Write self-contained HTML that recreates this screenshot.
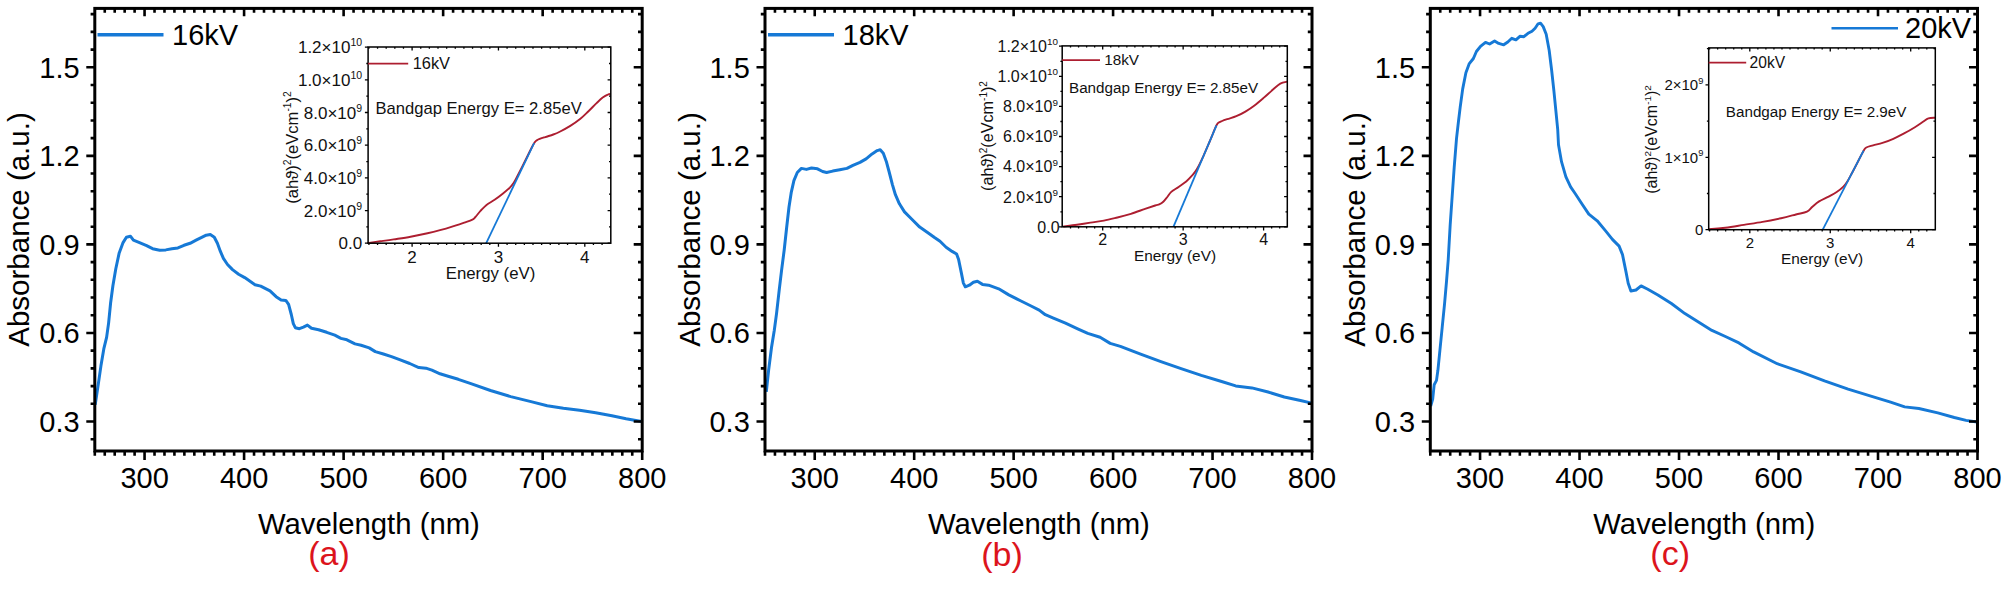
<!DOCTYPE html>
<html><head><meta charset="utf-8"><title>Absorbance spectra</title>
<style>html,body{margin:0;padding:0;background:#fff}svg{display:block}</style></head>
<body>
<svg width="2008" height="593" viewBox="0 0 2008 593">
<rect width="2008" height="593" fill="#fff"/>
<g font-family='"Liberation Sans", Arial, sans-serif' font-size="29" fill="#000">
<path d="M95.2,404.8 L98.0,386.1 L100.9,366.1 L103.8,348.9 L106.6,337.4 L108.6,323.1 L110.6,303.0 L112.9,285.8 L115.8,268.7 L119.2,252.9 L122.9,242.9 L126.4,237.2 L130.4,236.2 L133.4,240.2 L139.5,242.7 L146.6,245.7 L152.6,248.7 L159.7,250.3 L165.8,249.9 L171.9,248.7 L177.9,247.9 L184.0,245.3 L190.1,243.3 L196.1,240.2 L202.2,237.2 L206.2,235.2 L210.3,234.6 L214.3,237.2 L217.4,243.3 L220.4,251.4 L223.4,258.4 L227.5,264.5 L232.5,269.6 L238.6,274.2 L244.7,277.6 L255.0,284.7 L260.7,286.1 L270.0,290.9 L276.1,296.7 L281.1,300.0 L285.8,300.4 L288.6,304.4 L291.3,314.5 L293.3,323.6 L295.3,327.7 L299.4,328.7 L303.4,327.1 L307.4,325.1 L311.5,328.3 L318.6,329.7 L326.7,332.3 L334.8,335.2 L340.9,338.4 L346.9,339.8 L355.0,343.9 L361.1,345.3 L369.2,347.9 L375.3,351.6 L383.4,354.0 L391.5,356.6 L399.6,359.7 L409.7,363.5 L418.8,367.6 L425.9,368.2 L431.9,370.2 L440.0,373.8 L448.1,376.3 L458.3,379.3 L470.2,383.4 L490.5,390.5 L510.7,396.6 L531.0,401.6 L547.2,405.7 L563.4,408.3 L579.6,410.3 L595.7,412.8 L611.9,415.8 L626.1,418.8 L641.5,421.5" fill="none" stroke="#1679d6" stroke-width="3.0" stroke-linejoin="round" stroke-linecap="butt" />
<rect x="94.8" y="8.4" width="547.4" height="442.6" fill="none" stroke="#000" stroke-width="3.0"/>
<path d="M94.80,451.0v4.8M104.75,451.0v4.8M104.75,8.4v4.3M114.71,451.0v4.8M114.71,8.4v4.3M124.66,451.0v4.8M124.66,8.4v4.3M134.61,451.0v4.8M134.61,8.4v4.3M144.56,451.0v9.0M144.56,8.4v7.8M154.52,451.0v4.8M154.52,8.4v4.3M164.47,451.0v4.8M164.47,8.4v4.3M174.42,451.0v4.8M174.42,8.4v4.3M184.37,451.0v4.8M184.37,8.4v4.3M194.33,451.0v4.8M194.33,8.4v4.3M204.28,451.0v4.8M204.28,8.4v4.3M214.23,451.0v4.8M214.23,8.4v4.3M224.19,451.0v4.8M224.19,8.4v4.3M234.14,451.0v4.8M234.14,8.4v4.3M244.09,451.0v9.0M244.09,8.4v7.8M254.04,451.0v4.8M254.04,8.4v4.3M264.00,451.0v4.8M264.00,8.4v4.3M273.95,451.0v4.8M273.95,8.4v4.3M283.90,451.0v4.8M283.90,8.4v4.3M293.85,451.0v4.8M293.85,8.4v4.3M303.81,451.0v4.8M303.81,8.4v4.3M313.76,451.0v4.8M313.76,8.4v4.3M323.71,451.0v4.8M323.71,8.4v4.3M333.67,451.0v4.8M333.67,8.4v4.3M343.62,451.0v9.0M343.62,8.4v7.8M353.57,451.0v4.8M353.57,8.4v4.3M363.52,451.0v4.8M363.52,8.4v4.3M373.48,451.0v4.8M373.48,8.4v4.3M383.43,451.0v4.8M383.43,8.4v4.3M393.38,451.0v4.8M393.38,8.4v4.3M403.33,451.0v4.8M403.33,8.4v4.3M413.29,451.0v4.8M413.29,8.4v4.3M423.24,451.0v4.8M423.24,8.4v4.3M433.19,451.0v4.8M433.19,8.4v4.3M443.15,451.0v9.0M443.15,8.4v7.8M453.10,451.0v4.8M453.10,8.4v4.3M463.05,451.0v4.8M463.05,8.4v4.3M473.00,451.0v4.8M473.00,8.4v4.3M482.96,451.0v4.8M482.96,8.4v4.3M492.91,451.0v4.8M492.91,8.4v4.3M502.86,451.0v4.8M502.86,8.4v4.3M512.81,451.0v4.8M512.81,8.4v4.3M522.77,451.0v4.8M522.77,8.4v4.3M532.72,451.0v4.8M532.72,8.4v4.3M542.67,451.0v9.0M542.67,8.4v7.8M552.63,451.0v4.8M552.63,8.4v4.3M562.58,451.0v4.8M562.58,8.4v4.3M572.53,451.0v4.8M572.53,8.4v4.3M582.48,451.0v4.8M582.48,8.4v4.3M592.44,451.0v4.8M592.44,8.4v4.3M602.39,451.0v4.8M602.39,8.4v4.3M612.34,451.0v4.8M612.34,8.4v4.3M622.29,451.0v4.8M622.29,8.4v4.3M632.25,451.0v4.8M632.25,8.4v4.3M642.20,451.0v9.0M94.8,439.21h-4.2M642.2,439.21h-4.2M94.8,421.50h-8.5M642.2,421.50h-8.5M94.8,403.79h-4.2M642.2,403.79h-4.2M94.8,386.08h-4.2M642.2,386.08h-4.2M94.8,368.37h-4.2M642.2,368.37h-4.2M94.8,350.66h-4.2M642.2,350.66h-4.2M94.8,332.95h-8.5M642.2,332.95h-8.5M94.8,315.24h-4.2M642.2,315.24h-4.2M94.8,297.53h-4.2M642.2,297.53h-4.2M94.8,279.82h-4.2M642.2,279.82h-4.2M94.8,262.11h-4.2M642.2,262.11h-4.2M94.8,244.40h-8.5M642.2,244.40h-8.5M94.8,226.69h-4.2M642.2,226.69h-4.2M94.8,208.98h-4.2M642.2,208.98h-4.2M94.8,191.27h-4.2M642.2,191.27h-4.2M94.8,173.56h-4.2M642.2,173.56h-4.2M94.8,155.85h-8.5M642.2,155.85h-8.5M94.8,138.14h-4.2M642.2,138.14h-4.2M94.8,120.43h-4.2M642.2,120.43h-4.2M94.8,102.72h-4.2M642.2,102.72h-4.2M94.8,85.01h-4.2M642.2,85.01h-4.2M94.8,67.30h-8.5M642.2,67.30h-8.5M94.8,49.59h-4.2M642.2,49.59h-4.2M94.8,31.88h-4.2M642.2,31.88h-4.2M94.8,14.17h-4.2M642.2,14.17h-4.2" stroke="#000" stroke-width="2.6" fill="none"/>
<text x="144.6" y="488.4" text-anchor="middle">300</text>
<text x="244.1" y="488.4" text-anchor="middle">400</text>
<text x="343.6" y="488.4" text-anchor="middle">500</text>
<text x="443.1" y="488.4" text-anchor="middle">600</text>
<text x="542.7" y="488.4" text-anchor="middle">700</text>
<text x="642.2" y="488.4" text-anchor="middle">800</text>
<text x="79.6" y="431.9" text-anchor="end">0.3</text>
<text x="79.6" y="343.3" text-anchor="end">0.6</text>
<text x="79.6" y="254.8" text-anchor="end">0.9</text>
<text x="79.6" y="166.3" text-anchor="end">1.2</text>
<text x="79.6" y="77.7" text-anchor="end">1.5</text>
<text x="368.9" y="534.4" text-anchor="middle" font-size="29.3">Wavelength (nm)</text>
<text transform="translate(29.3,229.5) rotate(-90)" text-anchor="middle" font-size="29.5">Absorbance (a.u.)</text>
<text x="329" y="564.6" text-anchor="middle" font-size="34" fill="#dc141c">(a)</text>
<path d="M766.3,391.9 L768.6,370.4 L771.5,347.5 L774.3,330.3 L776.6,313.1 L779.2,290.2 L781.6,270.1 L784.2,250.0 L786.6,228.0 L789.0,207.0 L791.2,192.7 L793.9,180.6 L797.3,172.5 L801.4,168.4 L806.4,169.4 L811.5,168.0 L817.5,168.8 L822.6,171.5 L826.6,172.5 L832.7,171.1 L839.8,169.8 L846.9,168.4 L852.9,165.4 L860.0,162.4 L866.1,158.9 L872.1,153.9 L877.2,150.6 L880.2,149.8 L883.3,153.3 L886.3,161.4 L889.3,172.5 L892.4,184.6 L895.4,194.7 L899.4,203.8 L904.5,211.9 L911.6,219.0 L919.7,227.1 L930.0,234.2 L934.5,237.5 L940.0,241.3 L946.1,247.3 L952.1,251.4 L956.6,254.0 L958.6,259.5 L961.3,272.6 L963.3,282.8 L965.3,286.8 L969.4,285.2 L973.4,282.3 L977.4,281.3 L982.5,284.4 L988.6,285.2 L998.7,288.8 L1008.8,294.9 L1021.0,301.0 L1031.1,306.0 L1039.2,310.1 L1045.3,314.7 L1053.4,318.2 L1065.5,323.2 L1077.7,328.9 L1087.8,333.4 L1100.1,337.3 L1110.2,343.4 L1120.4,346.4 L1140.6,354.1 L1160.9,361.6 L1181.1,368.7 L1201.3,375.4 L1221.6,381.5 L1235.7,385.9 L1251.9,387.9 L1268.1,392.0 L1284.3,397.0 L1300.5,400.5 L1311.7,403.1" fill="none" stroke="#1679d6" stroke-width="3.0" stroke-linejoin="round" stroke-linecap="butt" />
<rect x="765.0" y="8.4" width="547.0" height="442.6" fill="none" stroke="#000" stroke-width="3.0"/>
<path d="M765.00,451.0v4.8M774.95,451.0v4.8M774.95,8.4v4.3M784.89,451.0v4.8M784.89,8.4v4.3M794.84,451.0v4.8M794.84,8.4v4.3M804.78,451.0v4.8M804.78,8.4v4.3M814.73,451.0v9.0M814.73,8.4v7.8M824.67,451.0v4.8M824.67,8.4v4.3M834.62,451.0v4.8M834.62,8.4v4.3M844.56,451.0v4.8M844.56,8.4v4.3M854.51,451.0v4.8M854.51,8.4v4.3M864.45,451.0v4.8M864.45,8.4v4.3M874.40,451.0v4.8M874.40,8.4v4.3M884.35,451.0v4.8M884.35,8.4v4.3M894.29,451.0v4.8M894.29,8.4v4.3M904.24,451.0v4.8M904.24,8.4v4.3M914.18,451.0v9.0M914.18,8.4v7.8M924.13,451.0v4.8M924.13,8.4v4.3M934.07,451.0v4.8M934.07,8.4v4.3M944.02,451.0v4.8M944.02,8.4v4.3M953.96,451.0v4.8M953.96,8.4v4.3M963.91,451.0v4.8M963.91,8.4v4.3M973.85,451.0v4.8M973.85,8.4v4.3M983.80,451.0v4.8M983.80,8.4v4.3M993.75,451.0v4.8M993.75,8.4v4.3M1003.69,451.0v4.8M1003.69,8.4v4.3M1013.64,451.0v9.0M1013.64,8.4v7.8M1023.58,451.0v4.8M1023.58,8.4v4.3M1033.53,451.0v4.8M1033.53,8.4v4.3M1043.47,451.0v4.8M1043.47,8.4v4.3M1053.42,451.0v4.8M1053.42,8.4v4.3M1063.36,451.0v4.8M1063.36,8.4v4.3M1073.31,451.0v4.8M1073.31,8.4v4.3M1083.25,451.0v4.8M1083.25,8.4v4.3M1093.20,451.0v4.8M1093.20,8.4v4.3M1103.15,451.0v4.8M1103.15,8.4v4.3M1113.09,451.0v9.0M1113.09,8.4v7.8M1123.04,451.0v4.8M1123.04,8.4v4.3M1132.98,451.0v4.8M1132.98,8.4v4.3M1142.93,451.0v4.8M1142.93,8.4v4.3M1152.87,451.0v4.8M1152.87,8.4v4.3M1162.82,451.0v4.8M1162.82,8.4v4.3M1172.76,451.0v4.8M1172.76,8.4v4.3M1182.71,451.0v4.8M1182.71,8.4v4.3M1192.65,451.0v4.8M1192.65,8.4v4.3M1202.60,451.0v4.8M1202.60,8.4v4.3M1212.55,451.0v9.0M1212.55,8.4v7.8M1222.49,451.0v4.8M1222.49,8.4v4.3M1232.44,451.0v4.8M1232.44,8.4v4.3M1242.38,451.0v4.8M1242.38,8.4v4.3M1252.33,451.0v4.8M1252.33,8.4v4.3M1262.27,451.0v4.8M1262.27,8.4v4.3M1272.22,451.0v4.8M1272.22,8.4v4.3M1282.16,451.0v4.8M1282.16,8.4v4.3M1292.11,451.0v4.8M1292.11,8.4v4.3M1302.05,451.0v4.8M1302.05,8.4v4.3M1312.00,451.0v9.0M765.0,439.21h-4.2M1312.0,439.21h-4.2M765.0,421.50h-8.5M1312.0,421.50h-8.5M765.0,403.79h-4.2M1312.0,403.79h-4.2M765.0,386.08h-4.2M1312.0,386.08h-4.2M765.0,368.37h-4.2M1312.0,368.37h-4.2M765.0,350.66h-4.2M1312.0,350.66h-4.2M765.0,332.95h-8.5M1312.0,332.95h-8.5M765.0,315.24h-4.2M1312.0,315.24h-4.2M765.0,297.53h-4.2M1312.0,297.53h-4.2M765.0,279.82h-4.2M1312.0,279.82h-4.2M765.0,262.11h-4.2M1312.0,262.11h-4.2M765.0,244.40h-8.5M1312.0,244.40h-8.5M765.0,226.69h-4.2M1312.0,226.69h-4.2M765.0,208.98h-4.2M1312.0,208.98h-4.2M765.0,191.27h-4.2M1312.0,191.27h-4.2M765.0,173.56h-4.2M1312.0,173.56h-4.2M765.0,155.85h-8.5M1312.0,155.85h-8.5M765.0,138.14h-4.2M1312.0,138.14h-4.2M765.0,120.43h-4.2M1312.0,120.43h-4.2M765.0,102.72h-4.2M1312.0,102.72h-4.2M765.0,85.01h-4.2M1312.0,85.01h-4.2M765.0,67.30h-8.5M1312.0,67.30h-8.5M765.0,49.59h-4.2M1312.0,49.59h-4.2M765.0,31.88h-4.2M1312.0,31.88h-4.2M765.0,14.17h-4.2M1312.0,14.17h-4.2" stroke="#000" stroke-width="2.6" fill="none"/>
<text x="814.7" y="488.4" text-anchor="middle">300</text>
<text x="914.2" y="488.4" text-anchor="middle">400</text>
<text x="1013.6" y="488.4" text-anchor="middle">500</text>
<text x="1113.1" y="488.4" text-anchor="middle">600</text>
<text x="1212.5" y="488.4" text-anchor="middle">700</text>
<text x="1312.0" y="488.4" text-anchor="middle">800</text>
<text x="749.8" y="431.9" text-anchor="end">0.3</text>
<text x="749.8" y="343.3" text-anchor="end">0.6</text>
<text x="749.8" y="254.8" text-anchor="end">0.9</text>
<text x="749.8" y="166.3" text-anchor="end">1.2</text>
<text x="749.8" y="77.7" text-anchor="end">1.5</text>
<text x="1038.9" y="534.4" text-anchor="middle" font-size="29.3">Wavelength (nm)</text>
<text transform="translate(699.5,229.5) rotate(-90)" text-anchor="middle" font-size="29.5">Absorbance (a.u.)</text>
<text x="1002" y="566.3" text-anchor="middle" font-size="34" fill="#dc141c">(b)</text>
<path d="M1430.7,406.2 L1432.7,399.0 L1434.2,384.7 L1436.5,380.4 L1437.9,370.3 L1439.9,350.3 L1442.2,327.4 L1444.5,304.4 L1446.5,281.5 L1448.2,260.0 L1450.2,224.7 L1452.2,196.0 L1454.2,167.4 L1456.5,138.7 L1458.4,122.0 L1460.2,107.1 L1462.7,88.9 L1465.9,72.7 L1469.3,63.6 L1473.4,58.5 L1476.4,51.5 L1480.5,46.4 L1485.5,42.4 L1489.6,44.0 L1494.6,40.9 L1498.7,43.4 L1503.7,44.8 L1507.8,42.0 L1511.8,38.3 L1515.9,39.9 L1519.9,36.3 L1523.9,36.7 L1528.0,33.3 L1532.0,31.2 L1535.1,28.2 L1538.1,23.8 L1540.5,23.1 L1543.2,26.6 L1546.2,34.3 L1549.2,50.5 L1551.7,70.7 L1553.9,90.9 L1555.9,111.1 L1557.7,129.3 L1558.5,144.8 L1561.5,161.7 L1565.9,176.8 L1570.6,186.9 L1575.3,193.8 L1582.0,204.0 L1588.8,214.1 L1597.2,220.8 L1605.6,230.9 L1612.4,239.4 L1619.1,246.1 L1622.5,254.6 L1625.9,271.4 L1628.2,283.2 L1630.9,291.0 L1636.0,290.0 L1641.1,285.9 L1647.8,289.3 L1657.9,295.0 L1671.4,303.5 L1684.9,313.6 L1698.4,322.0 L1711.9,330.4 L1725.4,336.5 L1738.9,342.9 L1753.6,351.9 L1777.2,363.7 L1800.8,371.9 L1824.5,380.9 L1848.1,389.2 L1871.7,396.3 L1890.6,402.2 L1904.7,406.9 L1918.9,408.5 L1937.8,412.8 L1954.3,417.5 L1966.1,420.4 L1977.0,422.0" fill="none" stroke="#1679d6" stroke-width="2.9" stroke-linejoin="round" stroke-linecap="butt" />
<rect x="1430.3" y="8.4" width="547.2" height="442.6" fill="none" stroke="#000" stroke-width="3.0"/>
<path d="M1430.30,451.0v4.8M1440.25,451.0v4.8M1440.25,8.4v4.3M1450.20,451.0v4.8M1450.20,8.4v4.3M1460.15,451.0v4.8M1460.15,8.4v4.3M1470.10,451.0v4.8M1470.10,8.4v4.3M1480.05,451.0v9.0M1480.05,8.4v7.8M1489.99,451.0v4.8M1489.99,8.4v4.3M1499.94,451.0v4.8M1499.94,8.4v4.3M1509.89,451.0v4.8M1509.89,8.4v4.3M1519.84,451.0v4.8M1519.84,8.4v4.3M1529.79,451.0v4.8M1529.79,8.4v4.3M1539.74,451.0v4.8M1539.74,8.4v4.3M1549.69,451.0v4.8M1549.69,8.4v4.3M1559.64,451.0v4.8M1559.64,8.4v4.3M1569.59,451.0v4.8M1569.59,8.4v4.3M1579.54,451.0v9.0M1579.54,8.4v7.8M1589.49,451.0v4.8M1589.49,8.4v4.3M1599.43,451.0v4.8M1599.43,8.4v4.3M1609.38,451.0v4.8M1609.38,8.4v4.3M1619.33,451.0v4.8M1619.33,8.4v4.3M1629.28,451.0v4.8M1629.28,8.4v4.3M1639.23,451.0v4.8M1639.23,8.4v4.3M1649.18,451.0v4.8M1649.18,8.4v4.3M1659.13,451.0v4.8M1659.13,8.4v4.3M1669.08,451.0v4.8M1669.08,8.4v4.3M1679.03,451.0v9.0M1679.03,8.4v7.8M1688.98,451.0v4.8M1688.98,8.4v4.3M1698.93,451.0v4.8M1698.93,8.4v4.3M1708.87,451.0v4.8M1708.87,8.4v4.3M1718.82,451.0v4.8M1718.82,8.4v4.3M1728.77,451.0v4.8M1728.77,8.4v4.3M1738.72,451.0v4.8M1738.72,8.4v4.3M1748.67,451.0v4.8M1748.67,8.4v4.3M1758.62,451.0v4.8M1758.62,8.4v4.3M1768.57,451.0v4.8M1768.57,8.4v4.3M1778.52,451.0v9.0M1778.52,8.4v7.8M1788.47,451.0v4.8M1788.47,8.4v4.3M1798.42,451.0v4.8M1798.42,8.4v4.3M1808.37,451.0v4.8M1808.37,8.4v4.3M1818.31,451.0v4.8M1818.31,8.4v4.3M1828.26,451.0v4.8M1828.26,8.4v4.3M1838.21,451.0v4.8M1838.21,8.4v4.3M1848.16,451.0v4.8M1848.16,8.4v4.3M1858.11,451.0v4.8M1858.11,8.4v4.3M1868.06,451.0v4.8M1868.06,8.4v4.3M1878.01,451.0v9.0M1878.01,8.4v7.8M1887.96,451.0v4.8M1887.96,8.4v4.3M1897.91,451.0v4.8M1897.91,8.4v4.3M1907.86,451.0v4.8M1907.86,8.4v4.3M1917.81,451.0v4.8M1917.81,8.4v4.3M1927.75,451.0v4.8M1927.75,8.4v4.3M1937.70,451.0v4.8M1937.70,8.4v4.3M1947.65,451.0v4.8M1947.65,8.4v4.3M1957.60,451.0v4.8M1957.60,8.4v4.3M1967.55,451.0v4.8M1967.55,8.4v4.3M1977.50,451.0v9.0M1430.3,439.21h-4.2M1977.5,439.21h-4.2M1430.3,421.50h-8.5M1977.5,421.50h-8.5M1430.3,403.79h-4.2M1977.5,403.79h-4.2M1430.3,386.08h-4.2M1977.5,386.08h-4.2M1430.3,368.37h-4.2M1977.5,368.37h-4.2M1430.3,350.66h-4.2M1977.5,350.66h-4.2M1430.3,332.95h-8.5M1977.5,332.95h-8.5M1430.3,315.24h-4.2M1977.5,315.24h-4.2M1430.3,297.53h-4.2M1977.5,297.53h-4.2M1430.3,279.82h-4.2M1977.5,279.82h-4.2M1430.3,262.11h-4.2M1977.5,262.11h-4.2M1430.3,244.40h-8.5M1977.5,244.40h-8.5M1430.3,226.69h-4.2M1977.5,226.69h-4.2M1430.3,208.98h-4.2M1977.5,208.98h-4.2M1430.3,191.27h-4.2M1977.5,191.27h-4.2M1430.3,173.56h-4.2M1977.5,173.56h-4.2M1430.3,155.85h-8.5M1977.5,155.85h-8.5M1430.3,138.14h-4.2M1977.5,138.14h-4.2M1430.3,120.43h-4.2M1977.5,120.43h-4.2M1430.3,102.72h-4.2M1977.5,102.72h-4.2M1430.3,85.01h-4.2M1977.5,85.01h-4.2M1430.3,67.30h-8.5M1977.5,67.30h-8.5M1430.3,49.59h-4.2M1977.5,49.59h-4.2M1430.3,31.88h-4.2M1977.5,31.88h-4.2M1430.3,14.17h-4.2M1977.5,14.17h-4.2" stroke="#000" stroke-width="2.6" fill="none"/>
<text x="1480.0" y="488.4" text-anchor="middle">300</text>
<text x="1579.5" y="488.4" text-anchor="middle">400</text>
<text x="1679.0" y="488.4" text-anchor="middle">500</text>
<text x="1778.5" y="488.4" text-anchor="middle">600</text>
<text x="1878.0" y="488.4" text-anchor="middle">700</text>
<text x="1977.5" y="488.4" text-anchor="middle">800</text>
<text x="1415.1" y="431.9" text-anchor="end">0.3</text>
<text x="1415.1" y="343.3" text-anchor="end">0.6</text>
<text x="1415.1" y="254.8" text-anchor="end">0.9</text>
<text x="1415.1" y="166.3" text-anchor="end">1.2</text>
<text x="1415.1" y="77.7" text-anchor="end">1.5</text>
<text x="1704.3" y="534.4" text-anchor="middle" font-size="29.3">Wavelength (nm)</text>
<text transform="translate(1364.8,229.5) rotate(-90)" text-anchor="middle" font-size="29.5">Absorbance (a.u.)</text>
<text x="1670.2" y="564.6" text-anchor="middle" font-size="34" fill="#dc141c">(c)</text>
<path d="M97.5,34.8H163.5" stroke="#1679d6" stroke-width="3.4"/>
<text x="172" y="44.8">16kV</text>
<path d="M768,34.8H834" stroke="#1679d6" stroke-width="3.4"/>
<text x="842.5" y="44.8">18kV</text>
<path d="M1831.5,28.3H1898" stroke="#1679d6" stroke-width="2.6"/>
<text x="1905" y="38.4">20kV</text>
</g>
<g font-family='"Liberation Sans", Arial, sans-serif' font-size="16.4" fill="#111">
<rect x="368.1" y="47.0" width="242.7" height="196.2" fill="#fff" stroke="none"/>
<path d="M367.4,243.1 C369.5,242.8 375.8,241.9 380.2,241.3 C384.6,240.7 388.6,240.2 393.7,239.4 C398.8,238.6 405.0,237.7 410.6,236.7 C416.2,235.7 422.6,234.4 427.5,233.3 C432.4,232.2 435.9,231.3 440.0,230.2 C444.1,229.1 448.1,227.9 452.1,226.6 C456.2,225.3 460.9,223.8 464.3,222.6 C467.7,221.4 470.5,220.5 472.4,219.6 C474.2,218.7 474.0,218.4 475.4,217.0 C476.8,215.6 478.6,212.9 480.5,210.9 C482.4,208.9 484.1,206.8 486.5,204.9 C488.9,203.1 491.9,201.7 494.6,199.8 C497.3,197.9 500.2,195.7 502.7,193.7 C505.2,191.7 507.9,189.5 509.8,187.7 C511.7,185.8 512.4,184.9 513.9,182.6 C515.4,180.3 516.6,177.7 518.5,174.0 C520.4,170.3 523.2,164.7 525.3,160.5 C527.4,156.3 529.5,151.9 531.0,149.0 C532.5,146.1 533.1,144.7 534.1,143.2 C535.1,141.7 535.2,141.1 537.1,140.1 C539.0,139.1 542.5,138.0 545.2,137.1 C547.9,136.2 550.8,135.4 553.3,134.5 C555.8,133.6 557.4,132.9 560.2,131.5 C563.0,130.1 566.9,128.0 570.3,125.9 C573.7,123.8 577.4,121.2 580.4,118.8 C583.4,116.3 585.8,113.8 588.5,111.2 C591.2,108.6 594.2,105.4 596.6,103.1 C599.0,100.8 600.8,99.0 602.7,97.6 C604.6,96.2 606.4,95.2 607.8,94.6 C609.1,94.0 610.3,93.9 610.8,93.8" fill="none" stroke="#ad1e30" stroke-width="1.9" stroke-linejoin="round"/>
<path d="M486.1,243.3 L534.1,143.2" fill="none" stroke="#1679d6" stroke-width="1.8" stroke-linejoin="round" stroke-linecap="butt" />
<rect x="368.1" y="47.0" width="242.7" height="196.2" fill="none" stroke="#000" stroke-width="1.5"/>
<path d="M368.93,243.2v1.7M368.93,47.0v1.7M377.56,243.2v1.7M377.56,47.0v1.7M386.20,243.2v1.7M386.20,47.0v1.7M394.83,243.2v1.7M394.83,47.0v1.7M403.47,243.2v1.7M403.47,47.0v1.7M412.10,243.2v3.6M412.10,47.0v3.6M420.74,243.2v1.7M420.74,47.0v1.7M429.37,243.2v1.7M429.37,47.0v1.7M438.00,243.2v1.7M438.00,47.0v1.7M446.64,243.2v1.7M446.64,47.0v1.7M455.28,243.2v1.7M455.28,47.0v1.7M463.91,243.2v1.7M463.91,47.0v1.7M472.55,243.2v1.7M472.55,47.0v1.7M481.18,243.2v1.7M481.18,47.0v1.7M489.81,243.2v1.7M489.81,47.0v1.7M498.45,243.2v3.6M498.45,47.0v3.6M507.09,243.2v1.7M507.09,47.0v1.7M515.72,243.2v1.7M515.72,47.0v1.7M524.36,243.2v1.7M524.36,47.0v1.7M532.99,243.2v1.7M532.99,47.0v1.7M541.62,243.2v1.7M541.62,47.0v1.7M550.26,243.2v1.7M550.26,47.0v1.7M558.89,243.2v1.7M558.89,47.0v1.7M567.53,243.2v1.7M567.53,47.0v1.7M576.16,243.2v1.7M576.16,47.0v1.7M584.80,243.2v3.6M584.80,47.0v3.6M593.43,243.2v1.7M593.43,47.0v1.7M602.07,243.2v1.7M602.07,47.0v1.7M368.1,243.20h-3.2M610.8,243.20h-3.2M368.1,226.87h-1.8M610.8,226.87h-1.8M368.1,210.53h-3.2M610.8,210.53h-3.2M368.1,194.20h-1.8M610.8,194.20h-1.8M368.1,177.86h-3.2M610.8,177.86h-3.2M368.1,161.53h-1.8M610.8,161.53h-1.8M368.1,145.19h-3.2M610.8,145.19h-3.2M368.1,128.86h-1.8M610.8,128.86h-1.8M368.1,112.52h-3.2M610.8,112.52h-3.2M368.1,96.19h-1.8M610.8,96.19h-1.8M368.1,79.85h-3.2M610.8,79.85h-3.2M368.1,63.52h-1.8M610.8,63.52h-1.8M368.1,47.18h-3.2M610.8,47.18h-3.2" stroke="#000" stroke-width="1.3" fill="none"/>
<text x="362.1" y="249.3" text-anchor="end" font-size="17.0">0.0</text>
<text x="362.1" y="216.6" text-anchor="end" font-size="17.0">2.0×10<tspan font-size="10.5" dy="-7.1">9</tspan></text>
<text x="362.1" y="184.0" text-anchor="end" font-size="17.0">4.0×10<tspan font-size="10.5" dy="-7.1">9</tspan></text>
<text x="362.1" y="151.3" text-anchor="end" font-size="17.0">6.0×10<tspan font-size="10.5" dy="-7.1">9</tspan></text>
<text x="362.1" y="118.6" text-anchor="end" font-size="17.0">8.0×10<tspan font-size="10.5" dy="-7.1">9</tspan></text>
<text x="362.1" y="86.0" text-anchor="end" font-size="17.0">1.0×10<tspan font-size="10.5" dy="-7.1">10</tspan></text>
<text x="362.1" y="53.3" text-anchor="end" font-size="17.0">1.2×10<tspan font-size="10.5" dy="-7.1">10</tspan></text>
<text x="412.1" y="262.5" text-anchor="middle" font-size="17.0">2</text>
<text x="498.5" y="262.5" text-anchor="middle" font-size="17.0">3</text>
<text x="584.8" y="262.5" text-anchor="middle" font-size="17.0">4</text>
<text x="490.5" y="279.4" text-anchor="middle" font-size="16.8">Energy (eV)</text>
<text transform="translate(297.5,147.5) rotate(-90)" text-anchor="middle" font-size="16.6">(ahϑ)<tspan font-size="10.3" dy="-6.1">2</tspan><tspan dy="6.1">(eVcm</tspan><tspan font-size="10.3" dy="-6.1">-1</tspan><tspan dy="6.1">)</tspan><tspan font-size="10.3" dy="-6.1">2</tspan></text>
<path d="M368.1,63.6H408.2" stroke="#ad1e30" stroke-width="1.8"/>
<text x="412.7" y="69.3" font-size="16.4">16kV</text>
<text x="375.5" y="113.5" font-size="16.60">Bandgap Energy E= 2.85eV</text>
</g>
<g font-family='"Liberation Sans", Arial, sans-serif' font-size="15.3" fill="#111">
<rect x="1062.2" y="45.9" width="225.1" height="180.9" fill="#fff" stroke="none"/>
<path d="M1063.1,226.6 C1065.4,226.3 1072.5,225.5 1077.0,224.8 C1081.5,224.1 1085.9,223.3 1090.4,222.6 C1094.9,221.9 1099.4,221.4 1103.9,220.6 C1108.4,219.8 1112.9,218.6 1117.4,217.5 C1121.9,216.4 1126.4,215.2 1130.9,213.8 C1135.4,212.4 1140.4,210.5 1144.4,209.1 C1148.5,207.7 1152.7,206.3 1155.2,205.5 C1157.7,204.7 1157.9,205.0 1159.2,204.4 C1160.5,203.8 1162.0,202.9 1163.3,201.7 C1164.6,200.5 1166.0,198.6 1167.3,197.0 C1168.6,195.4 1169.1,193.8 1171.0,192.1 C1172.9,190.4 1176.1,188.7 1178.6,186.9 C1181.1,185.1 1183.9,183.3 1186.2,181.4 C1188.5,179.5 1190.4,177.4 1192.2,175.4 C1194.0,173.4 1194.9,172.6 1196.8,169.3 C1198.7,166.0 1201.3,160.6 1203.5,155.8 C1205.7,151.0 1207.9,145.6 1210.1,140.5 C1212.3,135.4 1214.9,128.3 1216.5,125.3 C1218.1,122.2 1217.8,123.2 1219.6,122.2 C1221.4,121.2 1224.3,120.2 1227.1,119.2 C1229.9,118.2 1233.2,117.5 1236.3,116.2 C1239.3,114.9 1242.4,113.4 1245.4,111.6 C1248.4,109.8 1251.5,107.8 1254.5,105.5 C1257.5,103.2 1260.6,100.5 1263.6,97.9 C1266.6,95.3 1269.9,92.2 1272.7,89.8 C1275.5,87.4 1277.9,85.0 1280.3,83.7 C1282.7,82.4 1286.1,82.0 1287.3,81.7" fill="none" stroke="#ad1e30" stroke-width="1.9" stroke-linejoin="round"/>
<path d="M1173.4,226.8 L1216.5,125.3" fill="none" stroke="#1679d6" stroke-width="1.8" stroke-linejoin="round" stroke-linecap="butt" />
<rect x="1062.2" y="45.9" width="225.1" height="180.9" fill="none" stroke="#000" stroke-width="1.5"/>
<path d="M1070.52,226.8v1.7M1070.52,45.9v1.7M1078.57,226.8v1.7M1078.57,45.9v1.7M1086.61,226.8v1.7M1086.61,45.9v1.7M1094.65,226.8v1.7M1094.65,45.9v1.7M1102.70,226.8v3.6M1102.70,45.9v3.6M1110.75,226.8v1.7M1110.75,45.9v1.7M1118.79,226.8v1.7M1118.79,45.9v1.7M1126.84,226.8v1.7M1126.84,45.9v1.7M1134.88,226.8v1.7M1134.88,45.9v1.7M1142.92,226.8v1.7M1142.92,45.9v1.7M1150.97,226.8v1.7M1150.97,45.9v1.7M1159.02,226.8v1.7M1159.02,45.9v1.7M1167.06,226.8v1.7M1167.06,45.9v1.7M1175.11,226.8v1.7M1175.11,45.9v1.7M1183.15,226.8v3.6M1183.15,45.9v3.6M1191.20,226.8v1.7M1191.20,45.9v1.7M1199.24,226.8v1.7M1199.24,45.9v1.7M1207.29,226.8v1.7M1207.29,45.9v1.7M1215.33,226.8v1.7M1215.33,45.9v1.7M1223.38,226.8v1.7M1223.38,45.9v1.7M1231.42,226.8v1.7M1231.42,45.9v1.7M1239.47,226.8v1.7M1239.47,45.9v1.7M1247.51,226.8v1.7M1247.51,45.9v1.7M1255.56,226.8v1.7M1255.56,45.9v1.7M1263.60,226.8v3.6M1263.60,45.9v3.6M1271.64,226.8v1.7M1271.64,45.9v1.7M1279.69,226.8v1.7M1279.69,45.9v1.7M1062.2,226.80h-3.2M1287.3,226.80h-3.2M1062.2,211.80h-1.8M1287.3,211.80h-1.8M1062.2,196.70h-3.2M1287.3,196.70h-3.2M1062.2,181.70h-1.8M1287.3,181.70h-1.8M1062.2,166.60h-3.2M1287.3,166.60h-3.2M1062.2,151.60h-1.8M1287.3,151.60h-1.8M1062.2,136.50h-3.2M1287.3,136.50h-3.2M1062.2,121.50h-1.8M1287.3,121.50h-1.8M1062.2,106.40h-3.2M1287.3,106.40h-3.2M1062.2,91.40h-1.8M1287.3,91.40h-1.8M1062.2,76.30h-3.2M1287.3,76.30h-3.2M1062.2,61.30h-1.8M1287.3,61.30h-1.8M1062.2,46.20h-3.2M1287.3,46.20h-3.2" stroke="#000" stroke-width="1.3" fill="none"/>
<text x="1059.6" y="232.6" text-anchor="end" font-size="16.0">0.0</text>
<text x="1057.9" y="202.5" text-anchor="end" font-size="16.0">2.0×10<tspan font-size="9.9" dy="-6.7">9</tspan></text>
<text x="1057.9" y="172.4" text-anchor="end" font-size="16.0">4.0×10<tspan font-size="9.9" dy="-6.7">9</tspan></text>
<text x="1057.9" y="142.3" text-anchor="end" font-size="16.0">6.0×10<tspan font-size="9.9" dy="-6.7">9</tspan></text>
<text x="1057.9" y="112.2" text-anchor="end" font-size="16.0">8.0×10<tspan font-size="9.9" dy="-6.7">9</tspan></text>
<text x="1057.9" y="82.1" text-anchor="end" font-size="16.0">1.0×10<tspan font-size="9.9" dy="-6.7">10</tspan></text>
<text x="1057.9" y="52.0" text-anchor="end" font-size="16.0">1.2×10<tspan font-size="9.9" dy="-6.7">10</tspan></text>
<text x="1102.7" y="244.6" text-anchor="middle" font-size="16.0">2</text>
<text x="1183.2" y="244.6" text-anchor="middle" font-size="16.0">3</text>
<text x="1263.6" y="244.6" text-anchor="middle" font-size="16.0">4</text>
<text x="1175" y="260.8" text-anchor="middle" font-size="15.4">Energy (eV)</text>
<text transform="translate(993,136) rotate(-90)" text-anchor="middle" font-size="16.2">(ahϑ)<tspan font-size="10.0" dy="-6.0">2</tspan><tspan dy="6.0">(eVcm</tspan><tspan font-size="10.0" dy="-6.0">-1</tspan><tspan dy="6.0">)</tspan><tspan font-size="10.0" dy="-6.0">2</tspan></text>
<path d="M1062.2,60.2H1100.0" stroke="#ad1e30" stroke-width="1.8"/>
<text x="1104.2" y="65.2" font-size="15.3">18kV</text>
<text x="1069" y="92.6" font-size="15.22">Bandgap Energy E= 2.85eV</text>
</g>
<g font-family='"Liberation Sans", Arial, sans-serif' font-size="15.6" fill="#111">
<rect x="1708.7" y="47.9" width="226.6" height="181.8" fill="#fff" stroke="none"/>
<path d="M1708.7,229.3 C1711.5,229.1 1719.5,228.5 1725.4,227.8 C1731.3,227.1 1737.7,225.9 1743.9,224.9 C1750.1,223.9 1756.3,223.0 1762.5,221.9 C1768.7,220.8 1775.5,219.4 1781.1,218.2 C1786.7,217.0 1791.6,215.6 1795.9,214.5 C1800.2,213.4 1804.2,213.0 1807.0,211.7 C1809.8,210.4 1810.4,208.5 1812.4,206.8 C1814.4,205.1 1816.4,203.1 1819.1,201.4 C1821.8,199.7 1825.7,198.2 1828.6,196.6 C1831.5,195.0 1834.2,193.7 1836.7,192.0 C1839.2,190.3 1841.6,188.4 1843.4,186.6 C1845.2,184.8 1846.1,183.5 1847.5,181.2 C1848.9,178.9 1850.3,176.1 1852.0,173.0 C1853.7,169.9 1855.6,166.2 1857.5,162.5 C1859.4,158.8 1862.1,153.2 1863.6,150.7 C1865.1,148.2 1864.7,148.4 1866.3,147.5 C1867.9,146.6 1870.4,146.1 1873.1,145.3 C1875.8,144.5 1879.1,144.0 1882.5,142.9 C1885.9,141.8 1889.7,140.4 1893.3,138.8 C1896.9,137.2 1900.5,135.3 1904.1,133.4 C1907.7,131.5 1911.8,129.1 1914.9,127.2 C1918.1,125.3 1920.8,123.3 1923.0,121.8 C1925.2,120.3 1926.4,119.0 1928.4,118.3 C1930.5,117.6 1934.2,117.8 1935.3,117.7" fill="none" stroke="#ad1e30" stroke-width="1.9" stroke-linejoin="round"/>
<path d="M1822.6,229.8 L1863.6,150.7" fill="none" stroke="#1679d6" stroke-width="1.8" stroke-linejoin="round" stroke-linecap="butt" />
<rect x="1708.7" y="47.9" width="226.6" height="181.8" fill="none" stroke="#000" stroke-width="1.5"/>
<path d="M1709.58,229.7v1.7M1709.58,47.9v1.7M1717.62,229.7v1.7M1717.62,47.9v1.7M1725.66,229.7v1.7M1725.66,47.9v1.7M1733.71,229.7v1.7M1733.71,47.9v1.7M1741.75,229.7v1.7M1741.75,47.9v1.7M1749.80,229.7v3.6M1749.80,47.9v3.6M1757.85,229.7v1.7M1757.85,47.9v1.7M1765.89,229.7v1.7M1765.89,47.9v1.7M1773.93,229.7v1.7M1773.93,47.9v1.7M1781.98,229.7v1.7M1781.98,47.9v1.7M1790.02,229.7v1.7M1790.02,47.9v1.7M1798.07,229.7v1.7M1798.07,47.9v1.7M1806.12,229.7v1.7M1806.12,47.9v1.7M1814.16,229.7v1.7M1814.16,47.9v1.7M1822.20,229.7v1.7M1822.20,47.9v1.7M1830.25,229.7v3.6M1830.25,47.9v3.6M1838.30,229.7v1.7M1838.30,47.9v1.7M1846.34,229.7v1.7M1846.34,47.9v1.7M1854.38,229.7v1.7M1854.38,47.9v1.7M1862.43,229.7v1.7M1862.43,47.9v1.7M1870.47,229.7v1.7M1870.47,47.9v1.7M1878.52,229.7v1.7M1878.52,47.9v1.7M1886.57,229.7v1.7M1886.57,47.9v1.7M1894.61,229.7v1.7M1894.61,47.9v1.7M1902.65,229.7v1.7M1902.65,47.9v1.7M1910.70,229.7v3.6M1910.70,47.9v3.6M1918.74,229.7v1.7M1918.74,47.9v1.7M1926.79,229.7v1.7M1926.79,47.9v1.7M1708.7,229.70h-3.2M1935.3,229.70h-3.2M1708.7,193.50h-1.8M1935.3,193.50h-1.8M1708.7,157.30h-3.2M1935.3,157.30h-3.2M1708.7,121.10h-1.8M1935.3,121.10h-1.8M1708.7,84.80h-3.2M1935.3,84.80h-3.2M1708.7,48.60h-1.8M1935.3,48.60h-1.8" stroke="#000" stroke-width="1.3" fill="none"/>
<text x="1703.4" y="235.1" text-anchor="end" font-size="15.0">0</text>
<text x="1703.4" y="162.7" text-anchor="end" font-size="15.0">1×10<tspan font-size="9.3" dy="-6.3">9</tspan></text>
<text x="1703.4" y="90.2" text-anchor="end" font-size="15.0">2×10<tspan font-size="9.3" dy="-6.3">9</tspan></text>
<text x="1749.8" y="247.8" text-anchor="middle" font-size="15.0">2</text>
<text x="1830.2" y="247.8" text-anchor="middle" font-size="15.0">3</text>
<text x="1910.7" y="247.8" text-anchor="middle" font-size="15.0">4</text>
<text x="1822" y="264" text-anchor="middle" font-size="15.4">Energy (eV)</text>
<text transform="translate(1656.5,139.5) rotate(-90)" text-anchor="middle" font-size="16.0">(ahϑ)<tspan font-size="9.9" dy="-5.9">2</tspan><tspan dy="5.9">(eVcm</tspan><tspan font-size="9.9" dy="-5.9">-1</tspan><tspan dy="5.9">)</tspan><tspan font-size="9.9" dy="-5.9">2</tspan></text>
<path d="M1708.7,62.7H1746.2" stroke="#ad1e30" stroke-width="1.8"/>
<text x="1749.6" y="67.9" font-size="15.6">20kV</text>
<text x="1725.8" y="117.0" font-size="15.22">Bandgap Energy E= 2.9eV</text>
</g>
</svg>
</body></html>
